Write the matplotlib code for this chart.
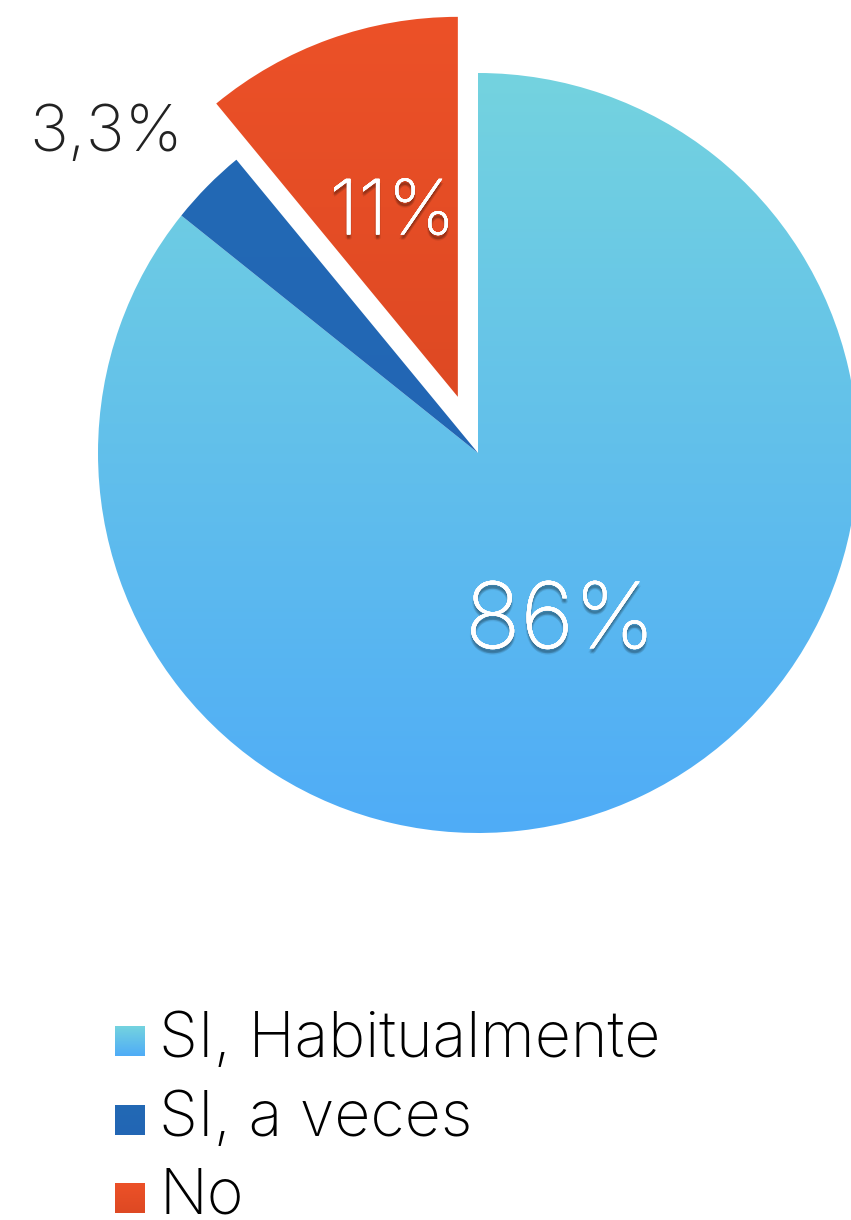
import numpy as np
import matplotlib
matplotlib.use("Agg")
import matplotlib.pyplot as plt
import matplotlib.patheffects as pe
from matplotlib.colors import LinearSegmentedColormap

# ---- data ----
categories = ["SI, Habitualmente", "SI, a veces", "No"]
values = [86, 3.3, 11]
value_labels = ["86%", "3,3%", "11%"]

# ---- styles ----
top_colors = ["#74D3DF", "#2369B5", "#EC5128"]
bot_colors = ["#4FACF7", "#2266B4", "#DE4923"]
label_dist = [0.5, 1.29, 0.51]
label_angle_off = [0, 4, 0]
label_size = [66, 47, 55]
label_color = ["white", "#222222", "white"]
label_shadow = [True, False, True]

W, H = 851, 1220
fig = plt.figure(figsize=(W / 100, H / 100), dpi=100)
fig.patch.set_facecolor("white")
ax = fig.add_axes([0, 0, 1, 1])

cx, cy, R = 478, H - 453, 380
explode = [0, 0, 0.157 * R]
FONT = ["Inter", "DejaVu Sans"]
WEIGHT = "light"

wedges, _ = ax.pie(values, startangle=90, counterclock=False, explode=explode,
                   center=(cx, cy), radius=R, frame=True,
                   wedgeprops=dict(linewidth=0))
ax.set_xlim(0, W)
ax.set_ylim(0, H)
ax.set_aspect("equal")
ax.axis("off")


def shadow_effects():
    effs = []
    for dx, dy, a in [(0, -3, 0.10), (1, -3, 0.08), (-1, -3, 0.08), (0, -4, 0.08), (0, -2, 0.08)]:
        effs.append(pe.withSimplePatchShadow(offset=(dx, dy), shadow_rgbFace="black", alpha=a))
    return effs


for i, w in enumerate(wedges):
    w.set_facecolor("none")
    path = w.get_path()
    verts = w.get_patch_transform().transform(path.vertices)
    x0, y0 = verts.min(axis=0)
    x1, y1 = verts.max(axis=0)
    cmap = LinearSegmentedColormap.from_list("g%d" % i, [bot_colors[i], top_colors[i]])
    grad = np.linspace(0, 1, 256).reshape(-1, 1)
    im = ax.imshow(grad, cmap=cmap, origin="lower", extent=[x0, x1, y0, y1],
                   aspect="auto", zorder=1, interpolation="bilinear")
    im.set_clip_path(w)

    mid = np.deg2rad((w.theta1 + w.theta2) / 2 + label_angle_off[i])
    wx, wy = w.center
    tx = wx + label_dist[i] * R * np.cos(mid)
    ty = wy + label_dist[i] * R * np.sin(mid)
    effects = shadow_effects() + [pe.Normal()] if label_shadow[i] else []
    ax.text(tx, ty, value_labels[i], ha="center", va="center", fontsize=label_size[i],
            color=label_color[i], family=FONT, fontweight=WEIGHT, zorder=3,
            path_effects=effects)

# ---- legend ----
leg_x, leg_y0, leg_dy = 115, H - 1041.5, 78.5
sq = 30
for i, lab in enumerate(categories):
    yy = leg_y0 - i * leg_dy
    cmap = LinearSegmentedColormap.from_list("l%d" % i, [bot_colors[i], top_colors[i]])
    grad = np.linspace(0, 1, 64).reshape(-1, 1)
    ax.imshow(grad, cmap=cmap, origin="lower",
              extent=[leg_x, leg_x + sq, yy - sq / 2, yy + sq / 2],
              aspect="auto", zorder=2)
    ax.text(leg_x + 44, yy - 15.5, lab, ha="left", va="baseline", fontsize=45,
            color="black", family=FONT, fontweight=WEIGHT, zorder=3)

ax.set_xlim(0, W)
ax.set_ylim(0, H)
fig.savefig("out.png", dpi=100, facecolor="white")
